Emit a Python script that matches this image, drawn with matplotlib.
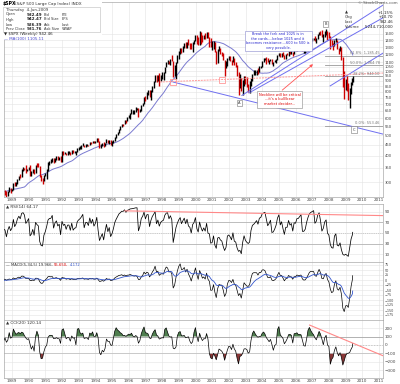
import numpy as np
import pandas as pd
import matplotlib
matplotlib.use('Agg')
import matplotlib.pyplot as plt
from matplotlib.ticker import FixedLocator, FuncFormatter, NullLocator

# ---------------- data (monthly, read/estimated from the chart) ----------------
close = [
    250.84, 236.12, 252.93, 231.32, 243.98, 249.22, 242.17,
    274.08, 284.20, 291.70, 288.36, 290.10, 304.00, 318.66, 329.80, 321.83, 251.79, 230.30, 247.08,
    257.07, 267.82, 258.89, 261.33, 262.16, 273.50, 272.02, 261.52, 271.91, 278.97, 273.70, 277.72,
    297.47, 288.86, 294.87, 309.64, 320.52, 317.98, 346.08, 351.45, 349.15, 340.36, 345.99, 353.40,
    329.08, 331.89, 339.94, 330.80, 361.23, 358.02, 356.15, 322.56, 306.05, 304.00, 322.22, 330.22,
    343.93, 367.07, 375.22, 375.34, 389.83, 371.16, 387.81, 395.43, 387.86, 392.46, 375.22, 417.09,
    408.79, 412.70, 403.69, 414.95, 415.35, 408.14, 424.21, 414.03, 417.80, 418.68, 431.35, 435.71,
    438.78, 443.38, 451.67, 440.19, 450.19, 450.53, 448.13, 463.56, 458.93, 467.83, 461.79, 466.45,
    481.61, 467.14, 445.77, 450.91, 456.50, 444.27, 458.26, 475.49, 462.69, 472.35, 453.69, 459.27,
    470.42, 487.39, 500.71, 514.71, 533.40, 544.75, 562.06, 561.88, 584.41, 581.50, 605.37, 615.93,
    636.02, 640.43, 645.50, 654.17, 669.12, 670.63, 639.95, 651.99, 687.33, 705.27, 757.02, 740.74,
    786.16, 790.82, 757.12, 801.34, 848.28, 885.14, 954.29, 899.47, 947.28, 914.62, 955.40, 970.43,
    980.28, 1049.34, 1101.75, 1111.75, 1090.82, 1133.84, 1120.67, 957.28, 1017.01, 1098.67, 1163.63, 1229.23,
    1279.64, 1238.33, 1286.37, 1335.18, 1301.84, 1372.71, 1328.72, 1320.41, 1282.71, 1362.93, 1388.91, 1469.25,
    1394.46, 1366.42, 1498.58, 1452.43, 1420.60, 1454.60, 1430.83, 1517.68, 1436.51, 1429.40, 1314.95, 1320.28,
    1366.01, 1239.94, 1160.33, 1249.46, 1255.82, 1224.42, 1211.23, 1133.58, 1040.94, 1059.78, 1139.45, 1148.08,
    1130.20, 1106.73, 1147.39, 1076.92, 1067.14, 989.82, 911.62, 916.07, 815.28, 885.76, 936.31, 879.82,
    855.70, 841.15, 848.18, 916.92, 963.59, 974.50, 990.31, 1008.01, 995.97, 1050.71, 1058.20, 1111.92,
    1131.13, 1144.94, 1126.21, 1107.30, 1120.68, 1140.84, 1101.72, 1104.24, 1114.58, 1130.20, 1173.82, 1211.92,
    1181.27, 1203.60, 1180.59, 1156.85, 1191.50, 1191.33, 1234.18, 1220.33, 1228.81, 1207.01, 1249.48, 1248.29,
    1280.08, 1280.66, 1294.83, 1310.61, 1270.09, 1270.20, 1276.66, 1303.82, 1335.85, 1377.94, 1400.63, 1418.30,
    1438.24, 1406.82, 1420.86, 1482.37, 1530.62, 1503.35, 1455.27, 1473.99, 1526.75, 1549.38, 1481.14, 1468.36,
    1378.55, 1330.63, 1322.70, 1385.59, 1400.38, 1280.00, 1267.38, 1282.83, 1166.36, 968.75, 896.24, 903.25,
    825.88, 735.09, 797.87, 872.81, 919.14, 942.46,
]
first_month = '1986-06-30'
last_day = '2009-06-04'

# monthly high / low from Jul 1988
high = [
    274, 272, 273, 284, 280, 279,
    298, 300, 300, 311, 322, 327, 347, 353, 351, 361, 347, 354,
    360, 337, 344, 347, 362, 369, 370, 357, 325, 315, 323, 331,
    345, 371, 377, 386, 391, 391, 390, 397, 396, 395, 398, 418,
    420, 415, 413, 419, 419, 416, 425, 425, 422, 419, 432, 441,
    442, 449, 457, 451, 453, 452, 451, 464, 463, 470, 468, 471,
    482, 482, 468, 452, 458, 463, 460, 477, 476, 474, 474, 466,
    475, 489, 505, 515, 535, 550, 565, 565, 587, 588, 609, 623,
    637, 665, 656, 657, 680, 674, 672, 666, 689, 711, 759, 761,
    794, 818, 817, 812, 850, 896, 955, 961, 961, 983, 961, 986,
    992, 1051, 1106, 1124, 1122, 1139, 1191, 1122, 1066, 1103, 1193, 1244,
    1285, 1282, 1316, 1362, 1368, 1376, 1420, 1357, 1362, 1373, 1410, 1474,
    1478, 1445, 1553, 1528, 1481, 1478, 1517, 1525, 1531, 1447, 1433, 1390,
    1383, 1376, 1245, 1269, 1316, 1287, 1237, 1223, 1134, 1111, 1158, 1174,
    1177, 1131, 1173, 1148, 1102, 1071, 991, 965, 925, 911, 952, 954,
    935, 867, 895, 924, 965, 1015, 1016, 1012, 1040, 1054, 1063, 1115,
    1155, 1158, 1164, 1150, 1127, 1146, 1141, 1109, 1131, 1142, 1188, 1218,
    1217, 1212, 1229, 1191, 1200, 1219, 1245, 1246, 1243, 1233, 1270, 1275,
    1295, 1297, 1310, 1318, 1327, 1284, 1280, 1306, 1340, 1390, 1407, 1431,
    1441, 1461, 1438, 1499, 1535, 1541, 1556, 1503, 1539, 1576, 1545, 1524,
    1471, 1396, 1359, 1404, 1441, 1404, 1293, 1314, 1305, 1167, 1007, 919,
    944, 878, 832, 889, 930, 945,
]
low = [
    262, 256, 257, 269, 266, 271,
    275, 287, 286, 294, 307, 312, 317, 339, 342, 330, 337, 342,
    320, 322, 330, 326, 330, 355, 352, 316, 303, 295, 303, 322,
    309, 340, 362, 370, 371, 369, 372, 380, 383, 380, 374, 371,
    404, 406, 401, 401, 408, 403, 409, 411, 411, 401, 417, 427,
    428, 431, 443, 437, 437, 444, 443, 447, 452, 458, 459, 460,
    464, 464, 436, 435, 446, 441, 444, 456, 460, 453, 448, 444,
    458, 469, 484, 500, 511, 530, 544, 553, 561, 572, 579, 602,
    597, 631, 627, 631, 644, 657, 606, 639, 649, 686, 703, 724,
    737, 774, 756, 733, 798, 836, 885, 893, 897, 856, 900, 920,
    912, 981, 1042, 1076, 1084, 1074, 1113, 940, 951, 923, 1095, 1137,
    1205, 1212, 1226, 1282, 1281, 1281, 1325, 1268, 1268, 1233, 1343, 1387,
    1350, 1325, 1330, 1339, 1373, 1418, 1416, 1427, 1429, 1305, 1304, 1255,
    1275, 1229, 1081, 1092, 1240, 1204, 1182, 1124, 944, 1031, 1054, 1124,
    1118, 1074, 1109, 1064, 1049, 953, 775, 837, 810, 768, 853, 872,
    838, 800, 789, 848, 902, 961, 960, 960, 974, 995, 1032, 1049,
    1109, 1124, 1087, 1105, 1076, 1113, 1078, 1060, 1101, 1090, 1127, 1174,
    1164, 1172, 1176, 1137, 1147, 1188, 1183, 1201, 1201, 1173, 1201, 1245,
    1245, 1254, 1268, 1282, 1245, 1219, 1224, 1261, 1301, 1327, 1361, 1385,
    1403, 1389, 1364, 1416, 1481, 1485, 1444, 1371, 1452, 1489, 1407, 1435,
    1270, 1317, 1256, 1320, 1371, 1272, 1200, 1248, 1133, 840, 741, 815,
    805, 734, 667, 784, 857, 888,
]

price_ticks = [300, 350, 400, 450, 500, 550, 600, 650, 700, 750, 800, 850, 900,
               950, 1000, 1050, 1100, 1200, 1300, 1400, 1500]
rsi_ticks = [10, 30, 50, 70, 90]
macd_ticks = [-175, -150, -125, -100, -75, -50, -25, 0, 25, 50, 75]
cci_ticks = [-300, -200, -100, 0, 100, 200]
year_labels = list(range(1989, 2012))

fib_low, fib_high = 553.46, 1576.09
fib_ratios = [0.0, 0.382, 0.5, 0.618]

# ---------------- derived series ----------------
dates = pd.date_range(first_month, periods=len(close), freq='ME')
dates = dates[:-1].append(pd.DatetimeIndex([pd.Timestamp(last_day)]))
x = np.asarray(dates.year, float) + (np.asarray(dates.dayofyear, float) - 1) / 365.25
s = pd.Series(close, dtype=float)
ma = s.rolling(24).mean()

d = s.diff()
n_rsi = 5
gain = d.clip(lower=0).ewm(alpha=1 / n_rsi, adjust=False).mean()
loss = (-d.clip(upper=0)).ewm(alpha=1 / n_rsi, adjust=False).mean()
rsi = 100 - 100 / (1 + gain / loss)

macd = s.ewm(span=2, adjust=False).mean() - s.ewm(span=6, adjust=False).mean()
sig = macd.ewm(span=12, adjust=False).mean()

# CCI on typical price where high/low are known, close before that
tp = s.copy()
nb = len(high)
tp.iloc[-nb:] = (np.array(high) + np.array(low) + s.values[-nb:]) / 3
n_cci = 10
sma = tp.rolling(n_cci).mean()
mad = tp.rolling(n_cci).apply(lambda v: np.mean(np.abs(v - v.mean())), raw=True)
cci = (tp - sma) / (0.015 * mad)

# ---------------- figure ----------------
W, H = 400, 384
fig = plt.figure(figsize=(4.0, 3.84), dpi=100)
fig.patch.set_facecolor('white')


def fx(px):
    return px / W


def fy(py):
    return 1 - py / H


L, R = 4, 383
ax1 = fig.add_axes([fx(L), fy(197), (R - L) / W, 195 / H])
ax2 = fig.add_axes([fx(L), fy(262), (R - L) / W, 58 / H])
ax3 = fig.add_axes([fx(L), fy(320), (R - L) / W, 58 / H])
ax4 = fig.add_axes([fx(L), fy(378), (R - L) / W, 58 / H])

XMIN, XMAX = 1988.52, 2011.24
ax1.set_yscale('log')
for ax in (ax1, ax2, ax3, ax4):
    ax.set_xlim(XMIN, XMAX)
    ax.xaxis.set_major_locator(FixedLocator(year_labels))
    ax.tick_params(axis='both', length=0, labelsize=3, pad=1, colors='#444444')
    ax.yaxis.tick_right()
    ax.grid(True, color='#e3e3e3', lw=0.4)
    ax.set_axisbelow(True)
    for sp in ax.spines.values():
        sp.set_color('#aaaaaa')
        sp.set_linewidth(0.5)
ax1.set_xticklabels([str(y) for y in year_labels])
ax4.set_xticklabels([str(y) for y in year_labels])
ax2.set_xticklabels([])
ax3.set_xticklabels([])
ax1.tick_params(axis='y', labelsize=2.7)
ax3.tick_params(axis='y', labelsize=2.4)

# ---- main price panel
ax1.set_ylim(255, 2120)
ax1.yaxis.set_major_locator(FixedLocator(price_ticks))
ax1.yaxis.set_major_formatter(FuncFormatter(lambda v, p: f'{v:.0f}'))
ax1.yaxis.set_minor_locator(NullLocator())

xb = x[-nb:]
cb = np.array(close[-nb:])
pb = np.array(close[-nb - 1:-1])
cols = np.where(cb >= pb, 'black', '#cc0000')
ax1.vlines(xb, low, high, colors=cols, lw=1.0, zorder=3)
ax1.plot(x, ma, color='#7a7ad0', lw=0.7, zorder=2)

blue = '#6f6ff0'
pink = '#ff9999'
# pitchfork / trend lines
ax1.plot([2002.78, 2011.24], [768, 2050], color=blue, lw=0.7, zorder=4)
ax1.plot([2003.20, 2011.24], [789, 1786], color=blue, lw=0.7, zorder=4)
ax1.plot([2008.07, 2011.24], [852, 1217], color=blue, lw=0.7, zorder=4)
ax1.plot([1998.65, 2011.24], [889, 505], color=blue, lw=0.7, zorder=4)
# neckline
ax1.plot([1997.87, 2011.24], [889, 980], color=pink, lw=0.7, ls=(0, (2, 1)), zorder=4)
ax1.plot([1998.65, 2001.59], [889, 909], ls='none', marker='s', ms=4,
         mfc='none', mec=pink, mew=0.6, zorder=4)

# fib levels
for r in fib_ratios:
    lv = fib_low + r * (fib_high - fib_low)
    ax1.plot([2007.76, XMAX], [lv, lv], color='#999999', lw=0.6, zorder=2)
    ax1.text(2011.05, lv * 1.005, f'{r*100:.1f}%: {lv:,.2f}', fontsize=2.6,
             color='#777777', ha='right', va='bottom', zorder=5)

# point labels
for lab, xx, yy in [('A', 2002.65, 708), ('B', 2007.8, 1670), ('C', 2009.5, 529)]:
    ax1.text(xx, yy, lab, fontsize=2.6, ha='center', va='center', color='#333333',
             bbox=dict(boxstyle='square,pad=0.4', fc='white', ec='#777777', lw=0.4), zorder=6)

# red arrow and notes
ax1.annotate('', xy=(2007.17, 1100), xytext=(2005.07, 798),
             arrowprops=dict(arrowstyle='-|>', color='#ff5555', lw=0.6,
                             mutation_scale=4), zorder=5)
ax1.text(2005.05, 738, 'Neckline will be critical\n...it\'s a bull/bear\nmarket decider...',
         fontsize=2.6, color='#dd0000', ha='center', va='center', linespacing=1.2,
         bbox=dict(boxstyle='square,pad=0.5', fc='white', ec='#888888', lw=0.4), zorder=6)
ax1.text(2004.95, 1389, 'Break the fork and 1025 is in\nthe cards....below 1025 and it\n'
         'becomes resistance....600 to 500 is\nvery possible.',
         fontsize=2.5, color='#2222cc', ha='center', va='center', linespacing=1.15,
         bbox=dict(boxstyle='square,pad=0.5', fc='white', ec='#8888cc', lw=0.4), zorder=6)

# ---- RSI panel
ax2.set_ylim(-5, 105)
ax2.yaxis.set_major_locator(FixedLocator(rsi_ticks))
ax2.plot(x, rsi, color='black', lw=0.55, zorder=3)
ax2.axhline(70, color='#aaaaaa', lw=0.5)
ax2.axhline(30, color='#aaaaaa', lw=0.5)
ax2.axhline(50, color='#aaaaaa', lw=0.5, ls=':')
ax2.plot([1995.77, XMAX], [92, 83], color='#ff8888', lw=0.8, zorder=4)
ax2.text(0.004, 0.985, '\u25b2 RSI(14) 64.17', transform=ax2.transAxes, fontsize=3,
         va='top', ha='left', color='#333333')

# ---- MACD panel
ax3.set_ylim(-200, 90)
ax3.yaxis.set_major_locator(FixedLocator(macd_ticks))
ax3.plot(x, macd, color='black', lw=0.5, zorder=3)
ax3.plot(x, sig, color='#3355cc', lw=0.6, zorder=4)
fig.text(fx(6), fy(263.5), '\u2014 MACD(5,34,5) 19.966,', fontsize=2.7, va='top', color='#333333')
fig.text(fx(54), fy(263.5), '55.650,', fontsize=2.7, va='top', color='#dd0000')
fig.text(fx(70), fy(263.5), '4.172', fontsize=2.7, va='top', color='#3355cc')

# ---- CCI panel
ax4.set_ylim(-390, 295)
ax4.yaxis.set_major_locator(FixedLocator(cci_ticks))
cv = cci.values
ax4.fill_between(x, cv, 100, where=cv > 100, interpolate=True, color='#4f7f4f', lw=0, zorder=2)
ax4.fill_between(x, cv, -100, where=cv < -100, interpolate=True, color='#8a3838', lw=0, zorder=2)
ax4.plot(x, cv, color='black', lw=0.5, zorder=3)
ax4.axhline(100, color='#999999', lw=0.5)
ax4.axhline(-100, color='#bbbbbb', lw=0.5)
ax4.axhline(0, color='#bbbbbb', lw=0.5, ls=(0, (2, 2)))
ax4.plot([2006.84, XMAX], [235, -127], color='#ff8888', lw=0.8, zorder=4)
ax4.text(0.004, 0.985, '\u25b2 CCI(20) 120.14', transform=ax4.transAxes, fontsize=3,
         va='top', ha='left', color='#333333')

# ---- header block
fig.patches.append(plt.Rectangle((fx(2), fy(40)), 100 / W, 38 / H, transform=fig.transFigure,
                                 fc='white', ec='none', zorder=5))
fig.patches.append(plt.Rectangle((fx(3), fy(32)), 97 / W, 25 / H, transform=fig.transFigure,
                                 fc='white', ec='#bbbbbb', lw=0.4, zorder=6))
fig.text(fx(3), fy(3.5), r'\$SPX', fontsize=3.3, weight='bold', va='center', zorder=7)
fig.text(fx(15), fy(3.5), '(S&P 500 Large Cap Index) INDX', fontsize=3, va='center',
         color='#333333', zorder=7)
fig.text(fx(6), fy(9.5), 'Thursday  4-Jun-2009', fontsize=2.8, va='center', color='#333333', zorder=7)
rows = [('Open', '932.49', 'Bid', 'P/E'), ('High', '942.47', 'Bid Size', 'EPS'),
        ('Low', '926.39', 'Ask', 'Last'), ('Prev Close', '931.76', 'Ask Size', 'VWAP')]
for i, (a, b, c, dd) in enumerate(rows):
    yy = fy(14.5 + 5 * i)
    fig.text(fx(6), yy, a, fontsize=2.6, va='center', color='#333333', zorder=7)
    fig.text(fx(27), yy, b, fontsize=2.9, va='center', weight='bold', color='#222222', zorder=7)
    fig.text(fx(44), yy, c, fontsize=2.6, va='center', color='#333333', zorder=7)
    fig.text(fx(62), yy, dd, fontsize=2.6, va='center', color='#333333', zorder=7)
fig.text(fx(4), fy(34.5), '\u25bc \\$SPX (Weekly) 942.46', fontsize=2.9, va='center', color='#222222', zorder=7)
fig.text(fx(4), fy(38.5), '\u2014 MA(100) 1105.11', fontsize=2.9, va='center', color='#4444cc', zorder=7)

# ---- top right block
fig.text(fx(398), fy(3), '\u00a9 StockCharts.com', fontsize=2.9, ha='right', va='center',
         color='#555555', zorder=7)
tr = [('\u25b2', '+1.15%'), ('Chg', '+10.70'), ('Last', '942.46'), ('Volume', '5,244,710,000')]
for i, (a, b) in enumerate(tr):
    yy = fy(12.5 + 4.8 * i)
    fig.text(fx(345), yy, a, fontsize=2.8, va='center', color='#333333', zorder=7)
    fig.text(fx(393), yy, b, fontsize=2.8, va='center', ha='right', color='#222222', zorder=7)

fig.savefig('out.png', dpi=100, facecolor='white')
